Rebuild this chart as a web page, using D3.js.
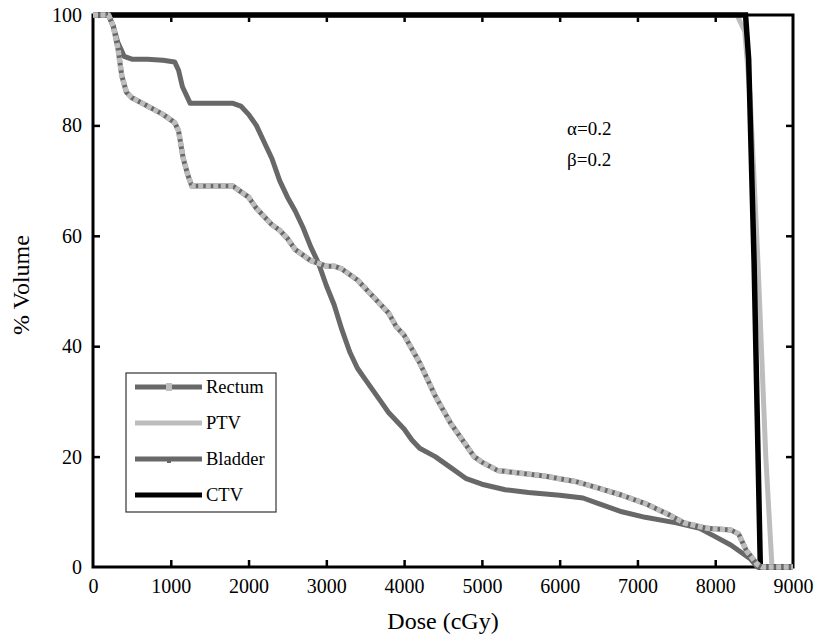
<!DOCTYPE html>
<html>
<head>
<meta charset="utf-8">
<script src="https://cdn.jsdelivr.net/npm/d3@7"></script>
<style>
  body { margin: 0; background: #fff; }
  svg { display: block; font-family: "Liberation Serif", "Times New Roman", serif; }
</style>
</head>
<body>
<div id="chart"></div>
<script>
// ── Data ─────────────────────────────────────────────────────────────────
const bladderDose = [0, 200, 260, 320, 400, 500, 700, 900, 1050, 1100, 1150, 1250, 1500, 1800, 1900, 2000, 2100, 2200, 2300, 2400, 2500, 2600, 2700, 2800, 2900, 3000, 3100, 3200, 3300, 3400, 3500, 3600, 3700, 3800, 3900, 4000, 4100, 4200, 4400, 4600, 4800, 5000, 5300, 5600, 6000, 6300, 6500, 6800, 7100, 7500, 7800, 8000, 8200, 8350, 8450, 8540, 9000]
const bladderVol  = [100, 100, 98, 95, 92.5, 92, 92, 91.8, 91.5, 90, 87, 84, 84, 84, 83.5, 82, 80, 77, 74, 70, 67, 64.5, 61.5, 58, 55, 51, 47.5, 43, 39, 36, 34, 32, 30, 28, 26.5, 25, 23, 21.5, 20, 18, 16, 15, 14, 13.5, 13, 12.5, 11.5, 10, 9, 8, 7, 5.5, 4, 2.5, 1.5, 0, 0]

const rectumDose = [0, 200, 260, 320, 370, 430, 500, 700, 900, 1050, 1100, 1160, 1220, 1270, 1500, 1800, 1900, 2000, 2100, 2200, 2300, 2400, 2500, 2600, 2700, 2800, 2900, 3000, 3100, 3200, 3300, 3400, 3500, 3600, 3700, 3800, 3900, 4000, 4100, 4200, 4300, 4400, 4500, 4600, 4700, 4800, 4900, 5000, 5200, 5500, 5800, 6000, 6200, 6500, 6800, 7100, 7400, 7600, 7900, 8200, 8300, 8400, 8540, 8600, 9000]
const rectumVol  = [100, 100, 98, 94, 89, 86, 85, 83.5, 82, 80.5, 79, 74, 71, 69, 69, 69, 68, 67, 65, 63.5, 62, 61, 59.5, 57.5, 56.5, 55.5, 55, 54.5, 54.5, 54, 53, 52, 50.5, 49, 47.5, 46, 43.5, 42, 39.5, 37, 34, 31, 28.5, 26, 24, 22, 20, 19, 17.5, 17, 16.5, 16, 15.5, 14.3, 13, 11.5, 9.5, 8, 7, 6.7, 6, 3, 0.5, 0, 0]

const ptvDose = [0, 8280, 8380, 8450, 8550, 8650, 8730, 9000]
const ptvVol  = [100, 100, 97, 85, 55, 20, 0, 0]

const ctvDose = [0, 8390, 8430, 8500, 8580, 9000]
const ctvVol  = [100, 100, 92, 55, 0, 0]

const xTicks = [0, 1000, 2000, 3000, 4000, 5000, 6000, 7000, 8000, 9000]
const yTicks = [0, 20, 40, 60, 80, 100]

const legendLabels = ['Rectum', 'PTV', 'Bladder', 'CTV']

// ── Layout ───────────────────────────────────────────────────────────────
const W = 816, H = 635
const M = { top: 15, right: 23, bottom: 68, left: 93 }
const DARK = '#686868', LIGHT = '#bdbdbd'

const svg = d3.select('#chart').append('svg').attr('width', W).attr('height', H)

const x = d3.scaleLinear().domain([0, 9000]).range([M.left, W - M.right])
const y = d3.scaleLinear().domain([0, 100]).range([H - M.bottom, M.top])

const line = d3.line().x(d => x(d[0])).y(d => y(d[1]))
const zip = (a, b) => a.map((v, i) => [v, b[i]])

// ── Frame + axes ─────────────────────────────────────────────────────────
svg.append('rect')
  .attr('x', x(0)).attr('y', y(100))
  .attr('width', x(9000) - x(0)).attr('height', y(0) - y(100))
  .attr('fill', 'none').attr('stroke', '#000').attr('stroke-width', 3)

const tickSize = 7
const style = g => {
  g.select('.domain').remove()
  g.selectAll('.tick line').attr('stroke', '#000').attr('stroke-width', 2.5)
  g.selectAll('text').attr('font-family', '"Liberation Serif", serif').attr('font-size', 20).attr('fill', '#000')
}

svg.append('g').attr('transform', `translate(0,${y(0)})`)
  .call(d3.axisBottom(x).tickValues(xTicks).tickSize(-tickSize).tickPadding(12).tickFormat(d3.format('d')))
  .call(style)
  .call(g => g.selectAll('.tick').filter(d => d === 0 || d === 9000).select('line').remove())

svg.append('g').attr('transform', `translate(0,${y(100)})`)
  .call(d3.axisTop(x).tickValues(xTicks.filter(d => d > 0 && d < 9000)).tickSize(-tickSize).tickFormat(''))
  .call(style)

svg.append('g').attr('transform', `translate(${x(0)},0)`)
  .call(d3.axisLeft(y).tickValues(yTicks).tickSize(-tickSize).tickPadding(11))
  .call(style)
  .call(g => g.selectAll('.tick').filter(d => d === 0 || d === 100).select('line').remove())

svg.append('g').attr('transform', `translate(${x(9000)},0)`)
  .call(d3.axisRight(y).tickValues(yTicks.filter(d => d > 0 && d < 100)).tickSize(-tickSize).tickFormat(''))
  .call(style)

// ── Curves ───────────────────────────────────────────────────────────────
svg.append('path').datum(zip(ptvDose, ptvVol)).attr('d', line)
  .attr('fill', 'none').attr('stroke', LIGHT).attr('stroke-width', 5)

svg.append('path').datum(zip(ctvDose, ctvVol)).attr('d', line)
  .attr('fill', 'none').attr('stroke', '#000').attr('stroke-width', 5.5)

svg.append('path').datum(zip(bladderDose, bladderVol)).attr('d', line)
  .attr('fill', 'none').attr('stroke', DARK).attr('stroke-width', 5).attr('stroke-linejoin', 'round')

const rect = zip(rectumDose, rectumVol)
svg.append('path').datum(rect).attr('d', line)
  .attr('fill', 'none').attr('stroke', DARK).attr('stroke-width', 5).attr('stroke-linejoin', 'round')
svg.append('path').datum(rect).attr('d', line)
  .attr('fill', 'none').attr('stroke', LIGHT).attr('stroke-width', 5.5)
  .attr('stroke-dasharray', '5,2.5').attr('stroke-linejoin', 'round')

// ── Titles ───────────────────────────────────────────────────────────────
svg.append('text').attr('x', (x(0) + x(9000)) / 2).attr('y', 629)
  .attr('text-anchor', 'middle').attr('font-size', 24).text('Dose (cGy)')

svg.append('text').attr('transform', `translate(29,${(y(0) + y(100)) / 2 - 6}) rotate(-90)`)
  .attr('text-anchor', 'middle').attr('font-size', 24).text('% Volume')

svg.append('text').attr('x', 567).attr('y', 135).attr('font-size', 19).text('α=0.2')
svg.append('text').attr('x', 567).attr('y', 166).attr('font-size', 19).text('β=0.2')

// ── Legend ───────────────────────────────────────────────────────────────
const legend = svg.append('g').attr('transform', 'translate(126,373)')
legend.append('rect').attr('width', 150).attr('height', 139)
  .attr('fill', '#fff').attr('stroke', '#333').attr('stroke-width', 1.2)

const legendStyle = [
  { color: DARK, marker: LIGHT },
  { color: LIGHT },
  { color: DARK, marker: DARK },
  { color: '#000' },
]
legendLabels.forEach((label, i) => {
  const cy = 14 + i * 36
  const s = legendStyle[i]
  legend.append('line').attr('x1', 9).attr('x2', 76).attr('y1', cy).attr('y2', cy)
    .attr('stroke', s.color).attr('stroke-width', 5)
  if (s.marker === LIGHT) {
    legend.append('rect').attr('x', 40).attr('y', cy - 4).attr('width', 6).attr('height', 8).attr('fill', LIGHT)
  } else if (s.marker) {
    legend.append('rect').attr('x', 41).attr('y', cy).attr('width', 4).attr('height', 4).attr('fill', s.marker)
  }
  legend.append('text').attr('x', 80).attr('y', cy + 6).attr('font-size', 18.5).text(label)
})
</script>
</body>
</html>
